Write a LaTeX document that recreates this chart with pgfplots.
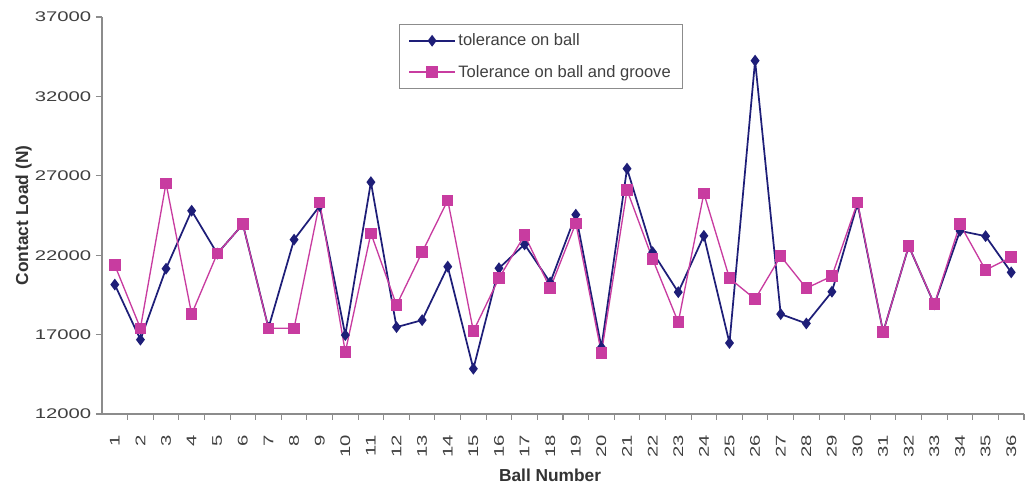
\documentclass[border=0pt]{standalone}
\usepackage{pgfplots}
\pgfplotsset{compat=1.18}
\usepackage{graphicx}
\usepackage{fontspec}
\setmainfont{Liberation Sans}
\definecolor{navyc}{RGB}{30,30,120}
\definecolor{pinkc}{RGB}{200,60,160}
\definecolor{axgray}{RGB}{140,140,140}
\begin{document}
\begin{tikzpicture}
\begin{axis}[
  scale only axis,
  width=691.5pt, height=297.75pt,
  xmin=0.5, xmax=36.5,
  ymin=12000, ymax=37000,
  ytick={12000,17000,22000,27000,32000,37000},
  xtick={1,...,36},
  minor xtick={1.5,2.5,...,36.5},
  scaled y ticks=false,
  axis x line*=bottom, axis y line*=left,
  axis line style={-, draw=axgray, line width=0.8pt},
  tick style={draw=axgray, line width=0.8pt},
  major x tick style={draw=none},
  tick align=outside,
  major tick length=4.5pt, minor tick length=4.5pt,
  yticklabel={\scalebox{1.45}[1]{\pgfmathprintnumber[int detect,1000 sep={},assume math mode=true]{\tick}}},
  xticklabel={\scalebox{1.45}[1]{\pgfmathprintnumber[int detect,assume math mode=true]{\tick}}},
  ticklabel style={font=\fontsize{10.5}{12}\selectfont, text=black!75},
  xticklabel style={rotate=90, anchor=east},
  xticklabel shift=8pt,
  every axis y label/.style={at={(axis description cs:-0.085,0.5)}, rotate=90, anchor=center, font=\fontsize{13}{15}\selectfont\bfseries, text=black!80},
  every axis x label/.style={at={(axis description cs:0.486,-0.154)}, anchor=center, font=\fontsize{13}{15}\selectfont\bfseries, text=black!80},
  ylabel={Contact Load (N)},
  xlabel={Ball Number},
  legend style={at={(axis description cs:0.322,0.982)}, anchor=north west, draw=axgray, font=\fontsize{12.4}{14}\selectfont, text=black!75, row sep=9pt, inner xsep=7pt, inner ysep=5pt},
  legend cell align=left,
  legend image code/.code={\draw[mark repeat=2,mark phase=2] plot coordinates {(0cm,0cm) (0.6cm,0cm) (1.2cm,0cm)};},
]
\addplot[color=navyc, line width=1.3pt, mark=diamond*, mark size=3.4pt, mark options={fill=navyc}] coordinates {
(1,20150) (2,16680) (3,21150) (4,24800) (5,22100) (6,23950) (7,17420) (8,22980) (9,25100) (10,16970)
(11,26600) (12,17470) (13,17910) (14,21280) (15,14850) (16,21180) (17,22680) (18,20280) (19,24550) (20,16200)
(21,27450) (22,22190) (23,19670) (24,23220) (25,16470) (26,34250) (27,18290) (28,17700) (29,19700) (30,25250)
(31,17160) (32,22570) (33,18900) (34,23530) (35,23200) (36,20920)
};
\addlegendentry{tolerance on ball}
\addplot[color=pinkc, line width=1pt, mark=square*, mark size=3.8pt, mark options={fill=pinkc}] coordinates {
(1,21370) (2,17400) (3,26530) (4,18290) (5,22100) (6,23950) (7,17400) (8,17400) (9,25330) (10,15900)
(11,23380) (12,18850) (13,22190) (14,25460) (15,17220) (16,20550) (17,23260) (18,19920) (19,24010) (20,15830)
(21,26100) (22,21750) (23,17780) (24,25900) (25,20550) (26,19230) (27,21940) (28,19920) (29,20680) (30,25330)
(31,17160) (32,22570) (33,18920) (34,23950) (35,21060) (36,21880)
};
\addlegendentry{Tolerance on ball and groove}
\end{axis}
\pgfresetboundingbox
\path[use as bounding box] ([xshift=-76.5pt,yshift=-54.75pt]current axis.south west) rectangle ([xshift=0.75pt,yshift=12.75pt]current axis.north east);
\end{tikzpicture}
\end{document}
